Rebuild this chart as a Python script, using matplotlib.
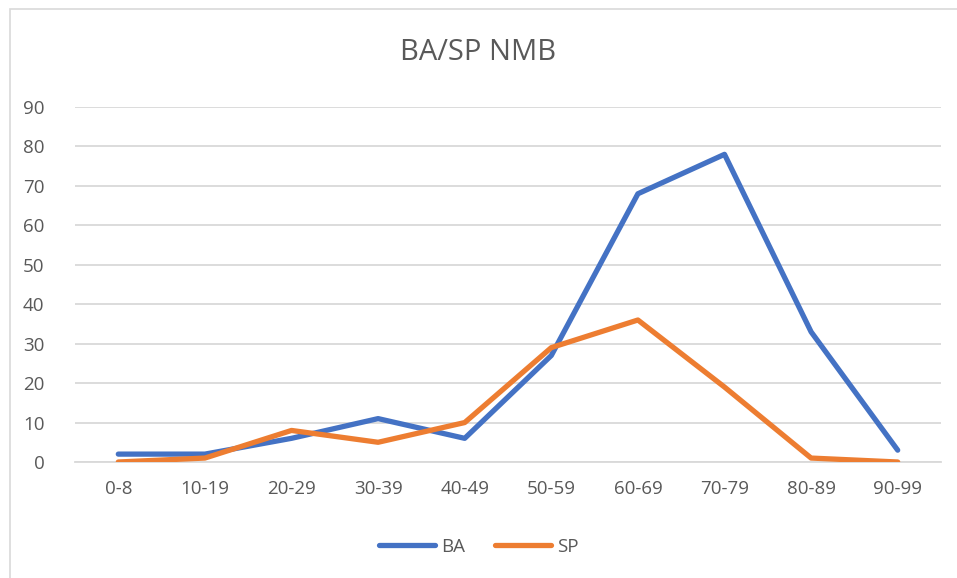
import matplotlib.pyplot as plt
from matplotlib.patches import Rectangle

# data
age_groups = ["0-8", "10-19", "20-29", "30-39", "40-49", "50-59", "60-69", "70-79", "80-89", "90-99"]
ba_counts = [2, 2, 6, 11, 6, 27, 68, 78, 33, 3]
sp_counts = [0, 1, 8, 5, 10, 29, 36, 19, 1, 0]
y_ticks = [0, 10, 20, 30, 40, 50, 60, 70, 80, 90]

plt.rcParams['font.family'] = ['Open Sans', 'DejaVu Sans']
text_col = "#595959"
grid_col = "#D9D9D9"

W, H = 957, 578
fig = plt.figure(figsize=(W / 100, H / 100), dpi=100)

# chart border (cut off on the right and bottom)
fig.patches.append(Rectangle((10 / W, -0.05), 1.2, 1 - 9 / H + 0.05, transform=fig.transFigure,
                             fill=False, edgecolor=grid_col, linewidth=1.2))

ax = fig.add_axes([75 / W, 1 - 462 / H, (941 - 75) / W, (462 - 107) / H])
x = range(len(age_groups))
ax.plot(x, ba_counts, color="#4472C4", linewidth=3.8, solid_capstyle="round", label="BA", zorder=3)
ax.plot(x, sp_counts, color="#ED7D31", linewidth=3.8, solid_capstyle="round", label="SP", zorder=3)

ax.set_xlim(-0.5, len(age_groups) - 0.5)
ax.set_ylim(0, 90)
ax.set_yticks(y_ticks)
ax.set_xticks(list(x))
ax.set_xticklabels(age_groups)
ax.tick_params(axis="both", length=0, labelsize=13.5, colors=text_col)
ax.tick_params(axis="y", pad=22)
ax.tick_params(axis="x", pad=13)
ax.grid(axis="y", color=grid_col, linewidth=1.3)
ax.set_axisbelow(True)
for s in ["top", "right", "left"]:
    ax.spines[s].set_visible(False)
ax.spines["bottom"].set_color(grid_col)
ax.spines["bottom"].set_linewidth(1.3)

fig.text(0.5, 1 - 52 / H, "BA/SP NMB", ha="center", va="center", fontsize=21, color=text_col)

fig.legend(loc="center", bbox_to_anchor=(0.5, 1 - 547 / H), ncol=2, frameon=False,
           fontsize=13.5, labelcolor=text_col, handlelength=3, columnspacing=1.6, handletextpad=0.3)

fig.savefig("out.png", dpi=100, facecolor="white")
